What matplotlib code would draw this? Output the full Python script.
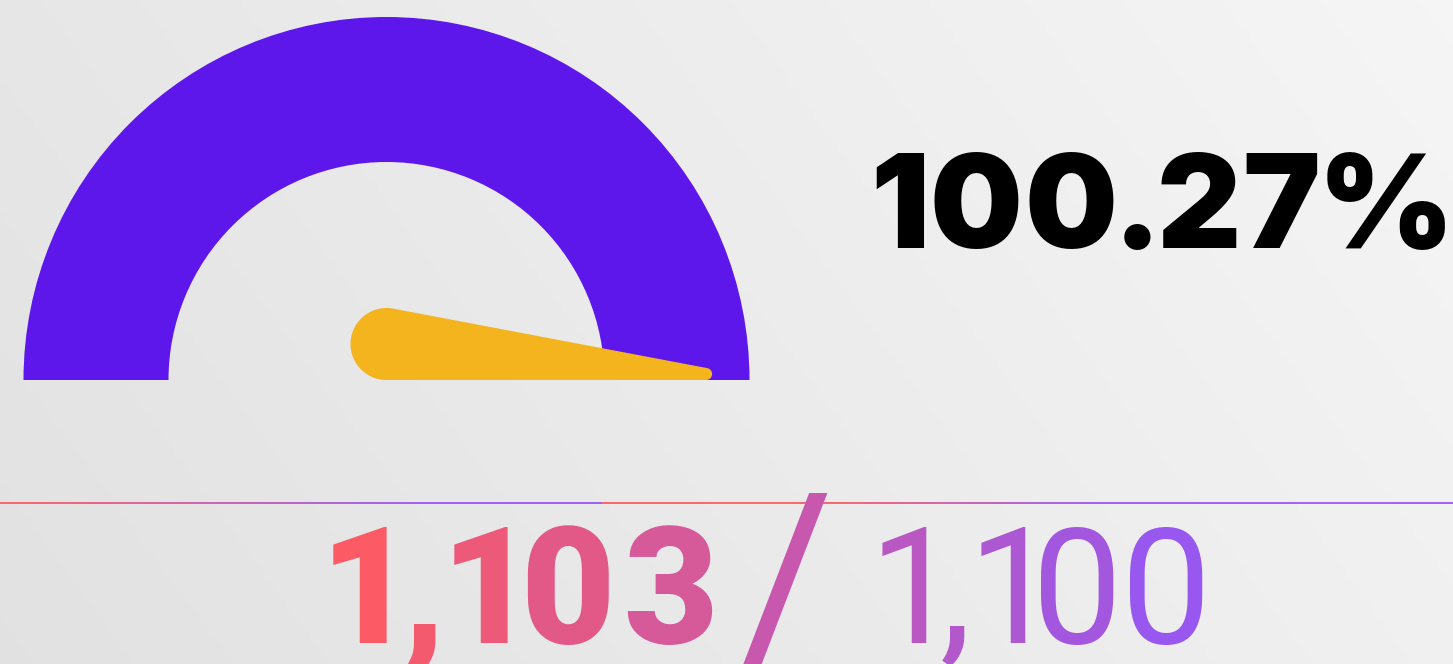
import numpy as np
import matplotlib
matplotlib.use("Agg")
import matplotlib.pyplot as plt
from matplotlib import font_manager
from matplotlib.textpath import TextPath
from matplotlib.patches import Wedge, Polygon
from matplotlib.collections import LineCollection

# values shown on the gauge
actual = 1103
target = 1100
pct = actual / target * 100

pct_label = f"{pct:.2f}%"
actual_label = f"{actual:,}"
target_label = f"{target:,}"

W, H, DPI = 1453, 664, 100
PURPLE = "#5E17EB"
YELLOW = "#F4B41E"
RED = np.array([255, 90, 95]) / 255
VIOLET = np.array([148, 87, 245]) / 255


def mix(t):
    t = float(np.clip(t, 0, 1))
    return tuple(RED * (1 - t) + VIOLET * t)


def weight_num(w):
    if isinstance(w, str):
        return font_manager.weight_dict.get(w, 400)
    return int(w)


def find_font(families, lo, hi, want):
    for fam in families:
        cands = [f for f in font_manager.fontManager.ttflist
                 if f.name == fam and f.style == "normal"
                 and f.stretch == "normal"
                 and lo <= weight_num(f.weight) <= hi]
        if cands:
            best = min(cands, key=lambda f: abs(weight_num(f.weight) - want))
            return font_manager.FontProperties(fname=best.fname)
    return font_manager.FontProperties(family="DejaVu Sans",
                                       weight="bold" if want > 600 else "normal")


def glyph_ext(ch, fp):
    return TextPath((0, 0), ch, size=100, prop=fp).get_extents()


def fitted_text(ax, s, fp, x0, x1, base_y, cap_px, color_at, z=5):
    # size so the "1" has cap_px ink height, spread glyphs to fill x0..x1
    k = cap_px / glyph_ext("1", fp).height
    exts = [glyph_ext(c, fp) for c in s]
    widths = [e.width * k for e in exts]
    gap = (x1 - x0 - sum(widths)) / max(len(s) - 1, 1)
    fpx = fp.copy()
    fpx.set_size(100 * k * 72 / DPI)
    left = x0
    for c, e, w in zip(s, exts, widths):
        ax.text(left - e.x0 * k, base_y, c, fontproperties=fpx,
                color=color_at(left + w / 2), ha="left", va="baseline",
                zorder=z)
        left += w + gap


heavy_num = find_font(["Roboto", "Lato", "Inter", "Open Sans", "Noto Sans"], 800, 1000, 1000)
heavy_pct = find_font(["Inter", "Lato", "Roboto", "Open Sans", "Noto Sans"], 800, 1000, 1000)
light_num = find_font(["Roboto", "Lato", "Inter", "Open Sans", "Noto Sans"], 350, 450, 400)
slash_font = find_font(["Roboto", "Lato", "Inter", "Open Sans", "Noto Sans"], 400, 500, 400)

fig = plt.figure(figsize=(W / DPI, H / DPI), dpi=DPI)
ax = fig.add_axes([0, 0, 1, 1])

# soft grey background, darker bottom-left, lighter top-right
gx, gy = np.meshgrid(np.linspace(0, 1, 300), np.linspace(0, 1, 140))
tt = 0.75 * gx + 0.25 * gy
c0, c1 = np.array([0.885, 0.885, 0.885]), np.array([0.962, 0.962, 0.962])
bg = c0 * (1 - tt[..., None]) + c1 * tt[..., None]
ax.imshow(bg, extent=[0, W, 0, H], origin="lower", aspect="auto", zorder=0)

# gauge arc
cx, cy = 386.5, 284
r_out, r_in = 363, 218
frac = min(pct / 100, 1)
ax.add_patch(Wedge((cx, cy), r_out, 180 - 180 * frac, 180, width=r_out - r_in,
                   facecolor=PURPLE, edgecolor="none", zorder=2))

# needle: big round base, thin rounded tip, lower edge on the pointing angle
r1, r2, L = 36, 6, 321
a = np.pi * (1 - frac)
c_base = np.array([cx, cy]) + r1 * np.array([-np.sin(a), np.cos(a)])
phi = a - np.arcsin((r1 - r2) / L)
c_tip = c_base + L * np.array([np.cos(phi), np.sin(phi)])
th = np.arccos((r1 - r2) / L)
back = np.linspace(phi + th, phi + 2 * np.pi - th, 120)
front = np.linspace(phi - th, phi + th, 40)
pts = np.vstack([c_base + r1 * np.c_[np.cos(back), np.sin(back)],
                 c_tip + r2 * np.c_[np.cos(front), np.sin(front)]])
ax.add_patch(Polygon(pts, closed=True, facecolor=YELLOW, edgecolor="none", zorder=3))

# percentage
fitted_text(ax, pct_label, heavy_pct, 876, 1445, 416, 95, lambda x: "black")

# divider line with two gradient runs
line_y = 161
xs = np.arange(0, W + 2, 2.0)
segs, cols = [], []
for xa, xb in zip(xs[:-1], xs[1:]):
    xm = (xa + xb) / 2
    if xm < 603:
        t = xm / 430
    else:
        t = (xm - 820) / 280
    segs.append([(xa, line_y), (xb, line_y)])
    cols.append(mix(t))
ax.add_collection(LineCollection(segs, colors=cols, linewidths=1.3, zorder=4))

# actual / target with gradient colour
grad = lambda x: mix((x - 333) / (1202 - 333))
fitted_text(ax, actual_label, heavy_num, 333, 711, 21, 116, grad)
fitted_text(ax, target_label, light_num, 882, 1202, 21, 115, grad)

# slash
e = glyph_ext("/", slash_font)
k = 182 / e.height
fps = slash_font.copy()
fps.set_size(100 * k * 72 / DPI)
sx = 783 - e.width * k / 2
sy = -11
ax.text(sx - e.x0 * k, sy - e.y0 * k, "/", fontproperties=fps, color=grad(785),
        ha="left", va="baseline", zorder=6)

ax.set_xlim(0, W)
ax.set_ylim(0, H)
ax.axis("off")
fig.savefig("out.png", dpi=DPI)
